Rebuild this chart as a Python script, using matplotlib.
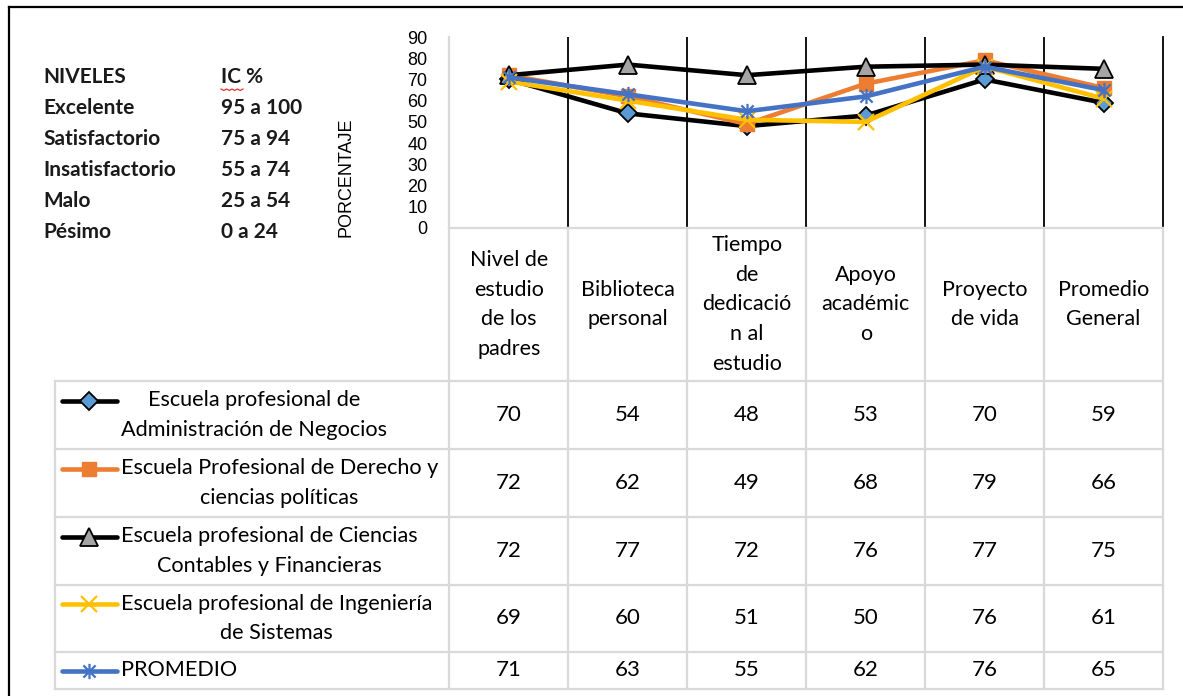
import numpy as np
import matplotlib
matplotlib.use("Agg")
import matplotlib.pyplot as plt
from matplotlib.lines import Line2D
from matplotlib.path import Path
import matplotlib.transforms as mtransforms

# ---------------- data ----------------
categories = ["Nivel de\nestudio\nde los\npadres", "Biblioteca\npersonal",
              "Tiempo\nde\ndedicació\nn al\nestudio", "Apoyo\nacadémic\no",
              "Proyecto\nde vida", "Promedio\nGeneral"]
series_names = ["Escuela profesional de\nAdministración de Negocios",
                "Escuela Profesional de Derecho y\nciencias políticas",
                "Escuela profesional de Ciencias\nContables y Financieras",
                "Escuela profesional de Ingeniería\nde Sistemas",
                "PROMEDIO"]
admin = [70, 54, 48, 53, 70, 59]
derecho = [72, 62, 49, 68, 79, 66]
contables = [72, 77, 72, 76, 77, 75]
sistemas = [69, 60, 51, 50, 76, 61]
promedio = [71, 63, 55, 62, 76, 65]
series_values = [admin, derecho, contables, sistemas, promedio]

niveles = ["NIVELES", "Excelente", "Satisfactorio", "Insatisfactorio", "Malo", "Pésimo"]
rangos = ["IC %", "95 a 100", "75 a 94", "55 a 74", "25 a 54", "0 a 24"]
yticks = list(range(0, 91, 10))

# ---------------- styles ----------------
star = Path([(-1, -1), (1, 1), (-1, 1), (1, -1), (0, -1.25), (0, 1.25)],
            [Path.MOVETO, Path.LINETO, Path.MOVETO, Path.LINETO, Path.MOVETO, Path.LINETO])
styles = [
    dict(color="black", marker="D", ms=9.5, mfc="#5B9BD5", mec="black", mew=1.3),
    dict(color="#ED7D31", marker="s", ms=10.5, mfc="#ED7D31", mec="#ED7D31", mew=1.0),
    dict(color="black", marker="^", ms=12.5, mfc="#A5A5A5", mec="black", mew=1.3),
    dict(color="#FFC000", marker="x", ms=11, mfc="#FFC000", mec="#FFC000", mew=1.6),
    dict(color="#4472C4", marker=star, ms=11, mfc="#4472C4", mec="#4472C4", mew=1.6),
]

W, H = 1183, 696
def fx(x):
    return x / W
def fy(y):
    return 1 - y / H

TFONT = "Lato"
AFONT = "Liberation Sans"
GRAY = "#D9D9D9"

fig = plt.figure(figsize=(W / 100, H / 100), dpi=100)

# outer frame
fig.add_artist(Line2D([fx(9), 1.0], [fy(7), fy(7)], color="black", lw=1.6, transform=fig.transFigure))
fig.add_artist(Line2D([fx(9), fx(9)], [fy(7), 0.0], color="black", lw=1.6, transform=fig.transFigure))

# ---------------- chart ----------------
L, R, T, B = 449.5, 1163, 37, 228
ax = fig.add_axes([fx(L), fy(B), fx(R) - fx(L), fy(T) - fy(B)])
ax.set_xlim(-0.5, len(categories) - 0.5)
ax.set_ylim(0, 90)
for s in ["top", "bottom"]:
    ax.spines[s].set_visible(False)
ax.spines["left"].set_color(GRAY)
ax.spines["left"].set_linewidth(1.6)
ax.spines["right"].set_color("black")
ax.spines["right"].set_linewidth(1.3)
ax.set_xticks([])
ax.set_xticks(np.arange(0.5, len(categories) - 1, 1), minor=True)
ax.tick_params(axis="x", which="minor", length=0)
ax.grid(which="minor", axis="x", color="black", lw=1.3)
ax.set_yticks(yticks)
ax.tick_params(axis="y", length=0, pad=16, labelsize=13)
for lab in ax.get_yticklabels():
    lab.set_fontfamily(AFONT)
fig.text(fx(346), fy(177.5), "PORCENTAJE", rotation=90, ha="center", va="center",
         fontsize=13, family=AFONT)

x = np.arange(len(categories))
for i, (vals, st) in enumerate(zip(series_values, styles)):
    ax.plot(x, vals, lw=3.3, solid_joinstyle="round", solid_capstyle="round",
            clip_on=False, zorder=3 + i, **st)

# ---------------- data table ----------------
trans = mtransforms.blended_transform_factory(ax.transData, fig.transFigure)
row_edges = [381, 449, 517, 585, 652, 689]
for xe in np.arange(-0.5, len(categories), 1):
    fig.add_artist(Line2D([xe, xe], [fy(B), fy(row_edges[-1])], color=GRAY, lw=1.6,
                          transform=trans, zorder=1))
fig.add_artist(Line2D([fx(L), fx(R)], [fy(B), fy(B)], color=GRAY, lw=1.6,
                      transform=fig.transFigure))
for ye in row_edges:
    fig.add_artist(Line2D([fx(55), fx(R)], [fy(ye), fy(ye)], color=GRAY, lw=1.6,
                          transform=fig.transFigure))
fig.add_artist(Line2D([fx(55), fx(55)], [fy(row_edges[0]), fy(row_edges[-1])], color=GRAY,
                      lw=1.6, transform=fig.transFigure))

# category headers
for i, cat in enumerate(categories):
    fig.text(i, fy((B + row_edges[0]) / 2), cat, transform=trans, ha="center", va="center",
             multialignment="center", fontsize=15.5, family=TFONT, linespacing=1.6)

# rows
for r, (name, vals, st) in enumerate(zip(series_names, series_values, styles)):
    yc = (row_edges[r] + row_edges[r + 1]) / 2
    nlines = name.count("\n") + 1
    ymark = yc - 14.5 * (nlines - 1)
    fig.text(fx(121), fy(yc), name, ha="left", va="center", multialignment="center",
             fontsize=15.6, family=TFONT, linespacing=1.62)
    fig.add_artist(Line2D([fx(62), fx(89.5), fx(117)], [fy(ymark)] * 3, lw=3.3,
                          markevery=[1], solid_capstyle="round",
                          transform=fig.transFigure, **st))
    for i, v in enumerate(vals):
        fig.text(i, fy(yc), str(v), transform=trans, ha="center", va="center",
                 fontsize=16, family=TFONT)

# ---------------- niveles box ----------------
for k, (a, b) in enumerate(zip(niveles, rangos)):
    yy = fy(77 + 31 * k)
    fig.text(fx(43), yy, a, ha="left", va="center", fontsize=15, fontweight="bold",
             family=TFONT, color="#1a1a1a")
    fig.text(fx(221), yy, b, ha="left", va="center", fontsize=15, fontweight="bold",
             family=TFONT, color="#1a1a1a")
# spell-check squiggle under "IC"
zx = np.linspace(221, 243, 9)
zy = 89 + np.array([0, 1.5] * 4 + [0])
fig.add_artist(Line2D(fx(zx), fy(zy), color="#E03030", lw=0.9, transform=fig.transFigure))

fig.savefig("out.png", dpi=100)
